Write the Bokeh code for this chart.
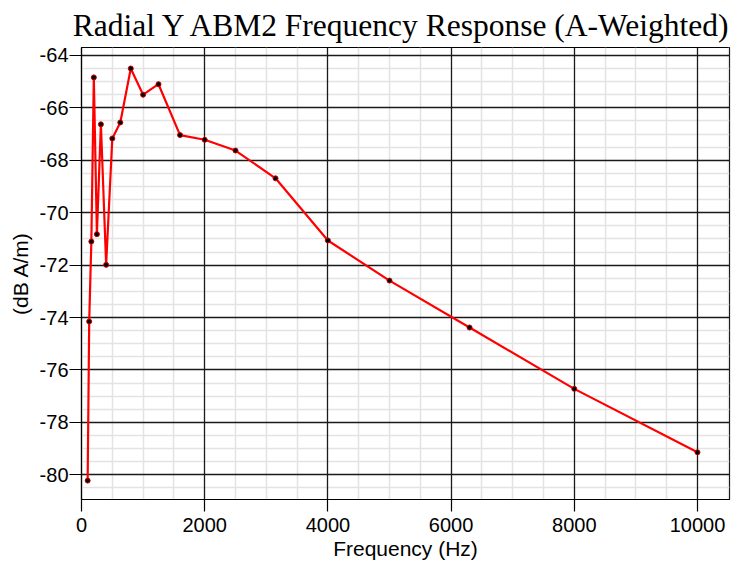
from bokeh.plotting import figure
from bokeh.models import Range1d, FixedTicker, Grid
from bokeh.embed import file_html
from bokeh.resources import INLINE

# One-third octave band centre frequencies (Hz)
freq_hz = [100, 125, 160, 200, 250, 315, 400, 500, 630, 800, 1000, 1250,
           1600, 2000, 2500, 3150, 4000, 5000, 6300, 8000, 10000]
# A-weighted level (dB A/m)
level_dba = [-80.22, -74.15, -71.10, -64.84, -70.82, -66.63, -71.99, -67.17,
             -66.56, -64.50, -65.50, -65.10, -67.04, -67.22, -67.63, -68.69,
             -71.06, -72.59, -74.38, -76.72, -79.14]

x_ticks = [0, 2000, 4000, 6000, 8000, 10000]
y_ticks = [-80, -78, -76, -74, -72, -70, -68, -66, -64]
x_minor = [v for v in range(0, 10501, 500) if v % 2000]
y_minor = [-81 + 0.5 * i for i in range(36) if (-81 + 0.5 * i) % 2]

p = figure(width=738, height=567, output_backend="svg", toolbar_location=None,
           x_range=Range1d(0, 10520), y_range=Range1d(-80.94, -63.70),
           min_border_left=81, min_border_right=9, min_border_top=46,
           min_border_bottom=68)

p.title.text = "Radial Y ABM2 Frequency Response (A-Weighted)"
p.title.text_font = "Liberation Serif"
p.title.text_font_size = "31.5px"
p.title.text_font_style = "normal"
p.title.text_color = "black"
p.title.align = "right"
p.title.offset = -3
p.title.standoff = 10

p.outline_line_color = "black"
p.outline_line_width = 1.2

for ax in (p.xaxis[0], p.yaxis[0]):
    ax.axis_line_color = "black"
    ax.axis_line_width = 1.2
    ax.major_tick_line_color = "black"
    ax.major_tick_line_width = 1.2
    ax.major_tick_out = 12
    ax.major_tick_in = 0
    ax.minor_tick_line_color = None
    ax.major_label_text_font = "Liberation Sans"
    ax.major_label_text_font_size = "20px"
    ax.major_label_text_color = "black"
    ax.axis_label_text_font = "Liberation Sans"
    ax.axis_label_text_font_size = "21px"
    ax.axis_label_text_font_style = "normal"
    ax.axis_label_text_color = "black"

p.xaxis.ticker = FixedTicker(ticks=x_ticks, minor_ticks=x_minor)
p.yaxis.ticker = FixedTicker(ticks=y_ticks, minor_ticks=y_minor)
p.yaxis.major_label_overrides = {t: "%d" % t for t in y_ticks}
p.xaxis.axis_label = "Frequency (Hz)"
p.yaxis.axis_label = "(dB A/m)"
p.xaxis.major_label_standoff = 6
p.yaxis.major_label_standoff = 1
p.xaxis.axis_label_standoff = 2
p.yaxis.axis_label_standoff = 5

# light minor grid first, dark major grid drawn on top of it
for g in (p.xgrid[0], p.ygrid[0]):
    g.grid_line_color = None
    g.minor_grid_line_color = "#e3e3e3"
    g.minor_grid_line_width = 1.5

for dim, tk in ((0, x_ticks), (1, y_ticks)):
    major = Grid(dimension=dim, ticker=FixedTicker(ticks=tk),
                 grid_line_color="#1a1a1a", grid_line_width=1.3)
    p.add_layout(major)

p.line(freq_hz, level_dba, line_color="red", line_width=2.2)
p.scatter(freq_hz, level_dba, size=5, fill_color="black",
          line_color="#cc0000", line_width=1)

open("out.html", "w").write(file_html(p, INLINE))
